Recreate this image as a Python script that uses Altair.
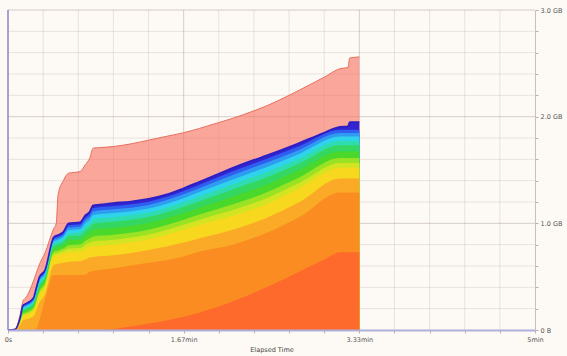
import altair as alt
import pandas as pd

# ---- data (GB vs seconds) ----
T_ENV = [0, 4, 7, 8.5, 10.5, 14.5, 16, 18, 21, 26, 27.5, 28.5, 31.5, 34.5, 41, 44, 46.5, 48.5, 52, 60,
         70, 80, 90, 100, 109, 120, 128, 140, 147, 160, 166, 180, 189, 193.5, 194.5, 200]
PINK = [0, 0.01, 0.15, 0.27, 0.31, 0.46, 0.53, 0.62, 0.72, 0.95, 1.0, 1.27, 1.40, 1.47, 1.485, 1.55, 1.61, 1.705,
        1.71, 1.72, 1.745, 1.78, 1.815, 1.85, 1.89, 1.945, 1.985, 2.055, 2.10, 2.20, 2.25, 2.37, 2.45, 2.46, 2.55, 2.56]
VIOLET = [0, 0.005, 0.12, 0.23, 0.25, 0.30, 0.39, 0.50, 0.56, 0.87, 0.885, 0.89, 0.92, 1.0, 1.01, 1.075, 1.11, 1.17,
          1.175, 1.19, 1.205, 1.23, 1.27, 1.33, 1.39, 1.465, 1.52, 1.595, 1.635, 1.715, 1.755, 1.85, 1.905, 1.91, 1.95, 1.95]

T_UP = [0, 4, 7, 8.5, 10.5, 14.5, 18, 21, 26, 28.5, 31.5, 34.5, 41, 44, 46.5, 48.5, 60, 80, 100, 109, 128, 147, 166, 189, 200]
BLUE = [0, 0.005, 0.117, 0.223, 0.242, 0.292, 0.488, 0.549, 0.857, 0.877, 0.906, 0.981, 0.991, 1.053, 1.087, 1.143,
        1.163, 1.203, 1.303, 1.362, 1.489, 1.603, 1.725, 1.878, 1.878]
SKY = [0, 0.005, 0.113, 0.215, 0.234, 0.282, 0.475, 0.536, 0.843, 0.862, 0.889, 0.96, 0.969, 1.028, 1.061, 1.112,
       1.132, 1.173, 1.272, 1.329, 1.453, 1.567, 1.691, 1.847, 1.847]
CYAN = [0, 0.005, 0.108, 0.206, 0.224, 0.271, 0.459, 0.522, 0.827, 0.844, 0.871, 0.935, 0.944, 0.999, 1.031, 1.078,
        1.096, 1.139, 1.236, 1.293, 1.412, 1.526, 1.653, 1.813, 1.813]
AQUA = [0, 0.005, 0.103, 0.196, 0.213, 0.259, 0.442, 0.506, 0.809, 0.825, 0.85, 0.908, 0.917, 0.968, 0.998, 1.039,
        1.057, 1.101, 1.197, 1.252, 1.367, 1.48, 1.611, 1.774, 1.774]
GREEN2 = [0, 0.005, 0.098, 0.185, 0.201, 0.246, 0.424, 0.488, 0.789, 0.805, 0.828, 0.879, 0.886, 0.933, 0.962, 0.997,
          1.015, 1.059, 1.155, 1.208, 1.318, 1.43, 1.564, 1.732, 1.732]
GREEN = [0, 0.004, 0.09, 0.17, 0.184, 0.228, 0.398, 0.464, 0.762, 0.776, 0.797, 0.838, 0.845, 0.886, 0.912, 0.939,
         0.956, 1.002, 1.096, 1.147, 1.25, 1.362, 1.50, 1.674, 1.674]
LGREEN = [0, 0.004, 0.082, 0.154, 0.166, 0.209, 0.371, 0.438, 0.733, 0.746, 0.764, 0.795, 0.801, 0.836, 0.859, 0.877,
          0.894, 0.941, 1.034, 1.082, 1.178, 1.289, 1.432, 1.612, 1.612]
YGREEN = [0, 0.004, 0.076, 0.142, 0.153, 0.194, 0.35, 0.419, 0.712, 0.723, 0.74, 0.762, 0.768, 0.798, 0.82, 0.831,
          0.847, 0.896, 0.987, 1.034, 1.124, 1.235, 1.381, 1.566, 1.566]
YELLOW = [0, 0.004, 0.07, 0.13, 0.14, 0.18, 0.33, 0.40, 0.69, 0.70, 0.715, 0.73, 0.735, 0.76, 0.78, 0.785, 0.80,
          0.85, 0.94, 0.985, 1.07, 1.18, 1.33, 1.52, 1.52]
AMBER = [0, 0.003, 0.05, 0.09, 0.10, 0.13, 0.26, 0.33, 0.61, 0.62, 0.63, 0.64, 0.645, 0.66, 0.68, 0.685, 0.70,
         0.75, 0.82, 0.86, 0.94, 1.05, 1.20, 1.42, 1.42]

T_ORANGE = [0, 15.4, 21, 26, 44, 46.5, 60, 80, 100, 109, 128, 147, 166, 189, 200]
ORANGE = [0, 0, 0.28, 0.515, 0.515, 0.545, 0.58, 0.63, 0.69, 0.735, 0.80, 0.91, 1.06, 1.29, 1.29]

T_RED = [0, 50, 60, 80, 100, 120, 140, 160, 180, 189, 200]
RED = [0, 0, 0.01, 0.06, 0.125, 0.22, 0.35, 0.50, 0.66, 0.73, 0.73]

X_TICKS = [0, 20, 40, 60, 80, 100, 120, 140, 160, 180, 200, 220, 240, 260, 280, 300]
Y_TICKS = [0, 0.2, 0.4, 0.6, 0.8, 1, 1.2, 1.4, 1.6, 1.8, 2, 2.2, 2.4, 2.6, 2.8, 3]

# draw order: largest (top) first, bottom-most last
BANDS = [
    ("pink", T_ENV, PINK, "#f86e5f", 0.6),
    ("violet", T_ENV, VIOLET, "#3324d0", 1),
    ("blue", T_UP, BLUE, "#2f5ef0", 1),
    ("sky", T_UP, SKY, "#2f9cf2", 1),
    ("cyan", T_UP, CYAN, "#2fd4ec", 1),
    ("aqua", T_UP, AQUA, "#2fdcb0", 1),
    ("green2", T_UP, GREEN2, "#34d860", 1),
    ("green", T_UP, GREEN, "#4ad82a", 1),
    ("lgreen", T_UP, LGREEN, "#9ae224", 1),
    ("ygreen", T_UP, YGREEN, "#d2e422", 1),
    ("yellow", T_UP, YELLOW, "#f8d81e", 1),
    ("amber", T_UP, AMBER, "#faaa26", 1),
    ("orange", T_ORANGE, ORANGE, "#fb8c22", 1),
    ("red", T_RED, RED, "#fd6a2b", 1),
]

rows = []
for name, ts, vs, _, _ in BANDS:
    for t, v in zip(ts, vs):
        rows.append({"band": name, "t": t, "v": v})
df = pd.DataFrame(rows)

FONT = "DejaVu Sans"
INTERP = "monotone"
xs = alt.Scale(domain=[0, 300], nice=False, zero=False)
ys = alt.Scale(domain=[0, 3], nice=False, zero=False)

x_axis = alt.Axis(
    values=X_TICKS,
    labelExpr="datum.value == 0 ? '0s' : datum.value == 100 ? '1.67min' : datum.value == 200 ? '3.33min' : datum.value == 300 ? '5min' : ''",
    title="Elapsed Time", grid=False, tickSize=3, tickColor="#b8b0b0",
    domainColor="#b0b0dc", domainWidth=2, labelFont=FONT, labelFontSize=6.5,
    labelColor="#555555", labelPadding=3, labelOverlap=False, labelFlush=False,
    titleFont=FONT, titleFontSize=6.5, titleFontWeight="normal", titleColor="#444444",
    titlePadding=4, zindex=1,
)
y_axis = alt.Axis(
    orient="right", values=Y_TICKS,
    labelExpr="datum.value == 0 ? '0 B' : (abs(datum.value - round(datum.value)) < 0.001 ? format(datum.value, '.1f') + ' GB' : '')",
    title=None, grid=False, tickSize=3, tickColor="#b8b0b0", domainColor="#c8c0c0",
    labelFont=FONT, labelFontSize=6.5, labelColor="#555555", labelPadding=2,
    labelBaseline="middle", labelOverlap=False, labelFlush=False, zindex=1,
)

X = alt.X("t:Q", scale=xs, axis=x_axis, title="Elapsed Time")
Y = alt.Y("v:Q", scale=ys, axis=y_axis, title=None)

layers = []

# grid underneath
xg_minor = pd.DataFrame({"t": [t for t in X_TICKS if t % 100 != 0]})
xg_major = pd.DataFrame({"t": [100, 200]})
yg_minor = pd.DataFrame({"v": [v for v in Y_TICKS if abs(v - round(v)) > 0.001]})
yg_major = pd.DataFrame({"v": [1, 2, 3]})
layers.append(alt.Chart(xg_minor).mark_rule(color="#8a7070", opacity=0.17, strokeWidth=1).encode(x=X))
layers.append(alt.Chart(xg_major).mark_rule(color="#8a7070", opacity=0.33, strokeWidth=1).encode(x=X))
layers.append(alt.Chart(yg_minor).mark_rule(color="#8a7070", opacity=0.17, strokeWidth=1).encode(y=Y))
layers.append(alt.Chart(yg_major).mark_rule(color="#8a7070", opacity=0.33, strokeWidth=1).encode(y=Y))

for name, _, _, col, op in BANDS:
    layers.append(
        alt.Chart(df).transform_filter(alt.datum.band == name)
        .mark_area(color=col, opacity=op, interpolate=INTERP)
        .encode(x=X, y=Y)
    )

# outlines
layers.append(
    alt.Chart(df).transform_filter(alt.datum.band == "pink")
    .mark_line(color="#e8705e", strokeWidth=1, interpolate=INTERP).encode(x=X, y=Y)
)
layers.append(
    alt.Chart(df).transform_filter(alt.datum.band == "violet")
    .mark_line(color="#2a1ec4", strokeWidth=1.6, interpolate=INTERP).encode(x=X, y=Y)
)

# left border
layers.append(alt.Chart(pd.DataFrame({"t": [0]})).mark_rule(color="#8884c8", strokeWidth=1.5).encode(x=X))

chart = alt.layer(*layers).properties(
    width=527, height=320,
    autosize=alt.AutoSizeParams(type="none"),
    padding={"left": 8, "top": 10, "right": 32, "bottom": 26},
    background="#fdfaf5",
).configure_view(stroke=None)

chart.save("out.html", embed_options={"renderer": "svg", "actions": False})
